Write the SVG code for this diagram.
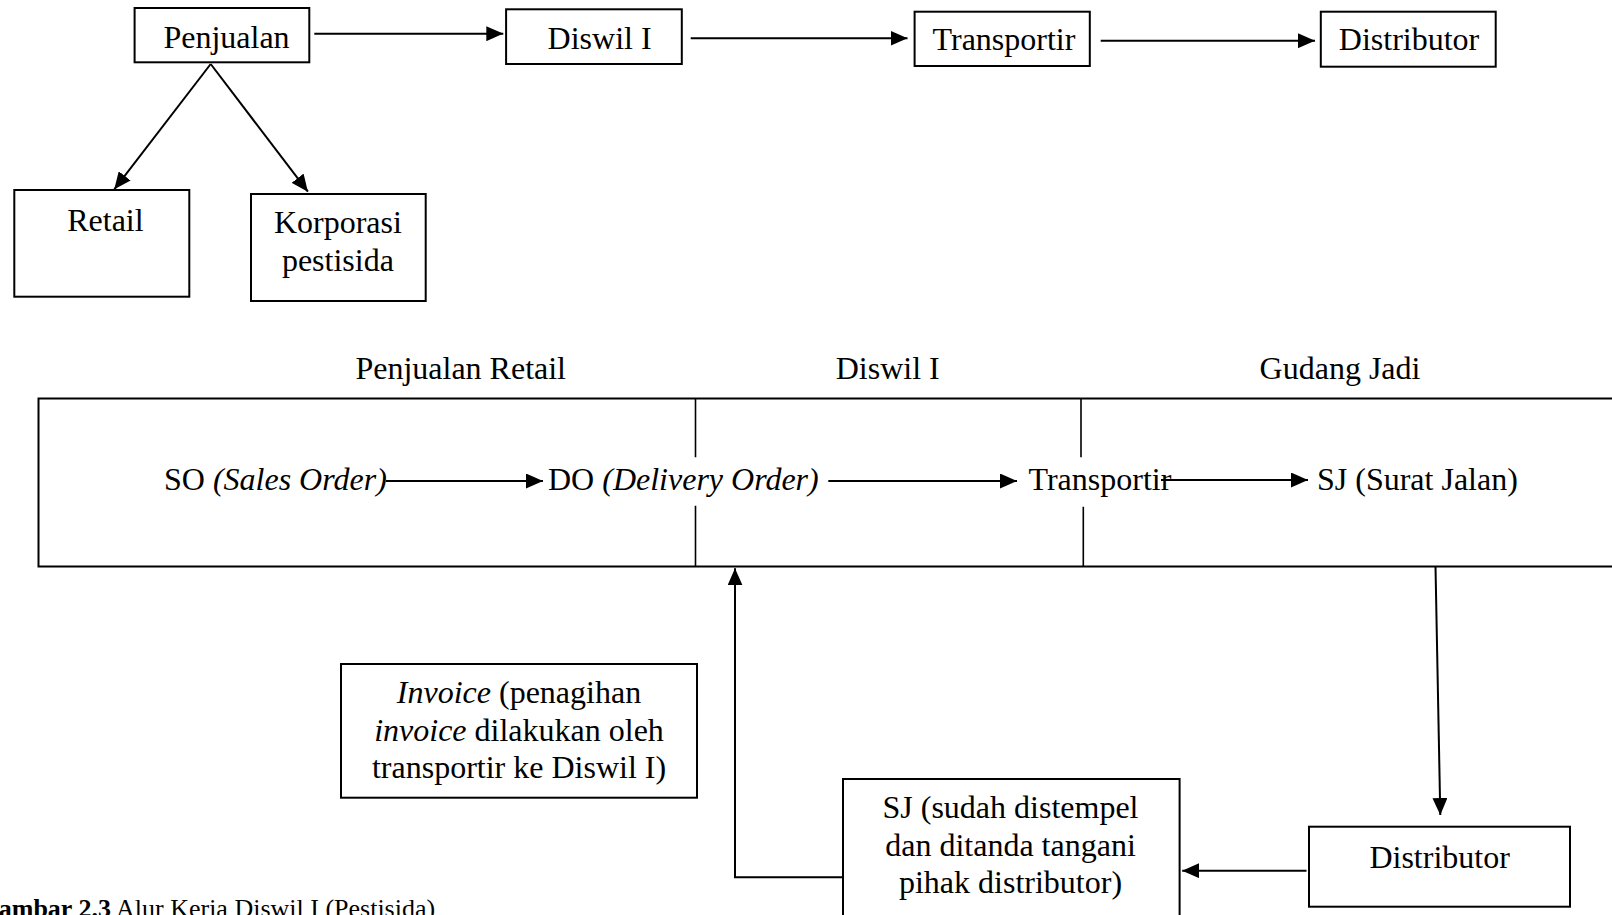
<svg xmlns="http://www.w3.org/2000/svg" width="1612" height="915" viewBox="0 0 1612 915">
<defs>
<style>
text{font-family:"Liberation Serif","Times New Roman",serif;font-size:32px;fill:#000}
.c{text-anchor:middle}
.i{font-style:italic}
.box{fill:#fff;stroke:#000;stroke-width:2}
.ln{fill:none;stroke:#000;stroke-width:2}
.dv{fill:none;stroke:#000;stroke-width:1.6}
.cap{font-size:26px}
</style>
<marker id="ah" markerUnits="userSpaceOnUse" markerWidth="17" markerHeight="15" refX="17" refY="7.5" orient="auto">
<path d="M0,0 L17,7.5 L0,15 z" fill="#000"/>
</marker>
</defs>
<rect width="1612" height="915" fill="#fff"/>

<g id="n-penjualan"><rect class="box" x="134.6" y="8" width="174.7" height="54.3"/><text class="c" x="226.5" y="48.3">Penjualan</text></g>
<g id="n-diswil"><rect class="box" x="506.1" y="9.3" width="175.7" height="54.7"/><text class="c" x="599.6" y="49.3">Diswil I</text></g>
<g id="n-transportir"><rect class="box" x="914.6" y="11.7" width="175.2" height="54.3"/><text class="c" x="1004" y="49.5">Transportir</text></g>
<g id="n-distributor"><rect class="box" x="1320.8" y="11.7" width="174.9" height="55"/><text class="c" x="1409" y="49.5">Distributor</text></g>
<g id="n-retail"><rect class="box" x="14.3" y="190" width="175" height="106.7"/><text class="c" x="105.4" y="230.7">Retail</text></g>
<g id="n-korporasi"><rect class="box" x="251" y="194" width="174.7" height="107"/><text class="c" x="337.9" y="233.3">Korporasi</text><text class="c" x="337.9" y="270.7">pestisida</text></g>

<g id="n-lanes">
<path class="ln" d="M1625,398.5 H38.5 V566.5 H1625"/>
<path class="dv" d="M695.5,398.5 V457.3 M695.5,505.7 V566.5 M1081,398.5 V457.3 M1083.3,506.7 V566.5"/>
<text class="c" x="460.7" y="379">Penjualan Retail</text>
<text class="c" x="887.7" y="379">Diswil I</text>
<text class="c" x="1340" y="379">Gudang Jadi</text>
</g>
<g id="n-so"><text x="164" y="490">SO <tspan class="i">(Sales Order)</tspan></text></g>
<g id="n-do"><text x="548" y="490">DO <tspan class="i">(Delivery Order)</tspan></text></g>
<g id="n-transportir2"><text x="1028.5" y="490">Transportir</text></g>
<g id="n-sj"><text x="1317" y="490">SJ (Surat Jalan)</text></g>

<g id="n-invoice"><rect class="box" x="341" y="664" width="356" height="133.7"/>
<text class="c" x="519" y="703"><tspan class="i">Invoice</tspan> (penagihan</text>
<text class="c" x="519" y="740.5"><tspan class="i">invoice</tspan> dilakukan oleh</text>
<text class="c" x="519" y="778">transportir ke Diswil I)</text></g>
<g id="n-sjstempel"><rect class="box" x="843" y="779" width="336.6" height="160"/>
<text class="c" x="1010.5" y="818">SJ (sudah distempel</text>
<text class="c" x="1010.5" y="855.5">dan ditanda tangani</text>
<text class="c" x="1010.5" y="893">pihak distributor)</text></g>
<g id="n-distributor2"><rect class="box" x="1309" y="826.7" width="261" height="80"/><text class="c" x="1439.6" y="868">Distributor</text></g>

<g id="connectors">
<line class="ln" x1="314.3" y1="33.7" x2="503.3" y2="33.7" marker-end="url(#ah)"/>
<line class="ln" x1="690.7" y1="38.3" x2="907.5" y2="38.3" marker-end="url(#ah)"/>
<line class="ln" x1="1100.7" y1="40.7" x2="1315" y2="40.7" marker-end="url(#ah)"/>
<line class="ln" x1="210.7" y1="64" x2="114.3" y2="189.3" marker-end="url(#ah)"/>
<line class="ln" x1="210.7" y1="64" x2="307.9" y2="191.7" marker-end="url(#ah)"/>
<line class="ln" x1="386" y1="481" x2="543" y2="481" marker-end="url(#ah)"/>
<line class="ln" x1="828.3" y1="481" x2="1017" y2="481" marker-end="url(#ah)"/>
<line class="ln" x1="1161" y1="480" x2="1308" y2="480" marker-end="url(#ah)"/>
<line class="ln" x1="1435.5" y1="566.5" x2="1440.3" y2="815" marker-end="url(#ah)"/>
<line class="ln" x1="1306.5" y1="870.7" x2="1182.2" y2="870.7" marker-end="url(#ah)"/>
<polyline class="ln" points="843,877.3 735,877.3 735,568.3" marker-end="url(#ah)"/>
</g>

<text class="cap" x="-21.5" y="917"><tspan font-weight="bold">Gambar 2.3</tspan> Alur Kerja Diswil I (Pestisida)</text>
</svg>
